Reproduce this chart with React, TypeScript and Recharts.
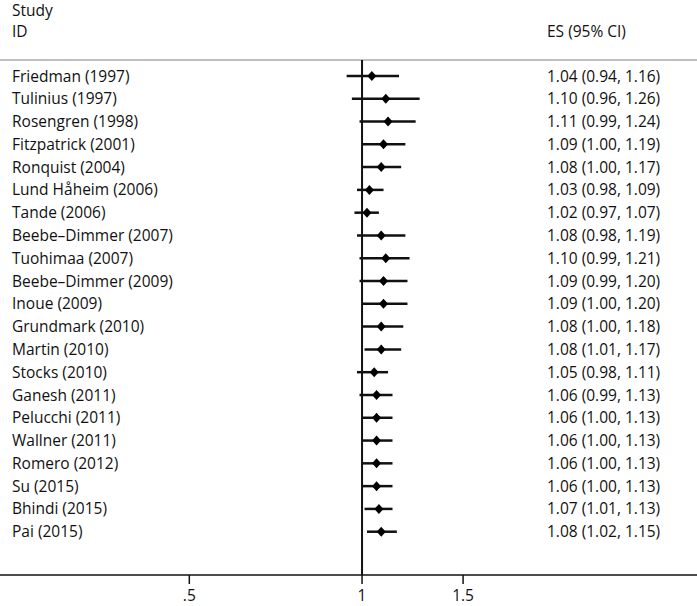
import { ScatterChart, Scatter, XAxis, YAxis, ReferenceLine } from "recharts";

const studies = [
    "Friedman (1997)",
    "Tulinius (1997)",
    "Rosengren (1998)",
    "Fitzpatrick (2001)",
    "Ronquist (2004)",
    "Lund Håheim (2006)",
    "Tande (2006)",
    "Beebe–Dimmer (2007)",
    "Tuohimaa (2007)",
    "Beebe–Dimmer (2009)",
    "Inoue (2009)",
    "Grundmark (2010)",
    "Martin (2010)",
    "Stocks (2010)",
    "Ganesh (2011)",
    "Pelucchi (2011)",
    "Wallner (2011)",
    "Romero (2012)",
    "Su (2015)",
    "Bhindi (2015)",
    "Pai (2015)",
];
const es = [1.04, 1.1, 1.11, 1.09, 1.08, 1.03, 1.02, 1.08, 1.1, 1.09, 1.09, 1.08, 1.08, 1.05, 1.06, 1.06, 1.06, 1.06, 1.06, 1.07, 1.08];
const ciLow = [0.94, 0.96, 0.99, 1.0, 1.0, 0.98, 0.97, 0.98, 0.99, 0.99, 1.0, 1.0, 1.01, 0.98, 0.99, 1.0, 1.0, 1.0, 1.0, 1.01, 1.02];
const ciHigh = [1.16, 1.26, 1.24, 1.19, 1.17, 1.09, 1.07, 1.19, 1.21, 1.2, 1.2, 1.18, 1.17, 1.11, 1.13, 1.13, 1.13, 1.13, 1.13, 1.13, 1.15];
const xTicks = [0.5, 1, 1.5];

const rows = studies.map((name, i) => ({ row: i, name, es: es[i], lo: ciLow[i], hi: ciHigh[i] }));
const rowTicks = rows.map((r) => r.row);

const FONT = "'Open Sans', sans-serif";
const FS = 15.5;

const fmt = (v: number) => v.toFixed(2);
const fmtX = (v: number) => (v < 1 ? String(v).replace(/^0/, "") : String(v));

// filled diamond marker at the point estimate
const Diamond = (props: any) => {
    const { cx, cy } = props;
    return <polygon points={`${cx - 4.5},${cy} ${cx},${cy - 5} ${cx + 4.5},${cy} ${cx},${cy + 5}`} fill="#000" />;
};

const nameTick = (props: any) => {
    const { y, payload } = props;
    return (
        <text x={12} y={y} dy="0.36em" fontFamily={FONT} fontSize={FS} fill="#111">
            {studies[payload.value]}
        </text>
    );
};

const esTick = (props: any) => {
    const { y, payload } = props;
    const i = payload.value;
    return (
        <text x={547} y={y} dy="0.36em" fontFamily={FONT} fontSize={FS} fill="#111">
            {`${fmt(es[i])} (${fmt(ciLow[i])}, ${fmt(ciHigh[i])})`}
        </text>
    );
};

export default function App() {
    return (
        <div style={{ position: "absolute", left: 0, top: 0, width: 697, height: 606, background: "#fff" }}>
            {/* Header */}
            <svg width={697} height={60} style={{ position: "absolute", left: 0, top: 0 }}>
                <text x={12} y={16} fontFamily={FONT} fontSize={FS} fill="#111">Study</text>
                <text x={12} y={37} fontFamily={FONT} fontSize={FS} fill="#111">ID</text>
                <text x={547} y={37} fontFamily={FONT} fontSize={FS} fill="#111">ES (95% CI)</text>
            </svg>

            <ScatterChart width={697} height={606} margin={{ top: 60, right: 0, bottom: 0, left: 0 }}>
                <XAxis
                    type="number"
                    dataKey="es"
                    scale="log"
                    domain={[0.2339, 3.835]}
                    allowDataOverflow
                    ticks={xTicks}
                    tickFormatter={fmtX}
                    height={31}
                    tickSize={9}
                    tickMargin={6}
                    stroke="#111"
                    strokeWidth={1.5}
                    tick={{ fontFamily: FONT, fontSize: FS, fill: "#111" }}
                />
                <YAxis
                    type="number"
                    dataKey="row"
                    reversed
                    domain={[-0.7, 21.9]}
                    allowDataOverflow
                    ticks={rowTicks}
                    interval={0}
                    mirror
                    axisLine={false}
                    tickLine={false}
                    tick={nameTick}
                />
                <YAxis
                    yAxisId="es"
                    orientation="right"
                    type="number"
                    reversed
                    domain={[-0.7, 21.9]}
                    allowDataOverflow
                    ticks={rowTicks}
                    interval={0}
                    mirror
                    axisLine={false}
                    tickLine={false}
                    tick={esTick}
                />
                <ReferenceLine y={-0.7} stroke="#aaa" strokeWidth={1.5} />
                <ReferenceLine x={1} stroke="#111" strokeWidth={2} />
                {rows.map((r) => (
                    <ReferenceLine
                        key={r.name}
                        segment={[
                            { x: r.lo, y: r.row },
                            { x: r.hi, y: r.row },
                        ]}
                        stroke="#111"
                        strokeWidth={2.5}
                    />
                ))}
                <Scatter data={rows} shape={<Diamond />} isAnimationActive={false} />
            </ScatterChart>
        </div>
    );
}
